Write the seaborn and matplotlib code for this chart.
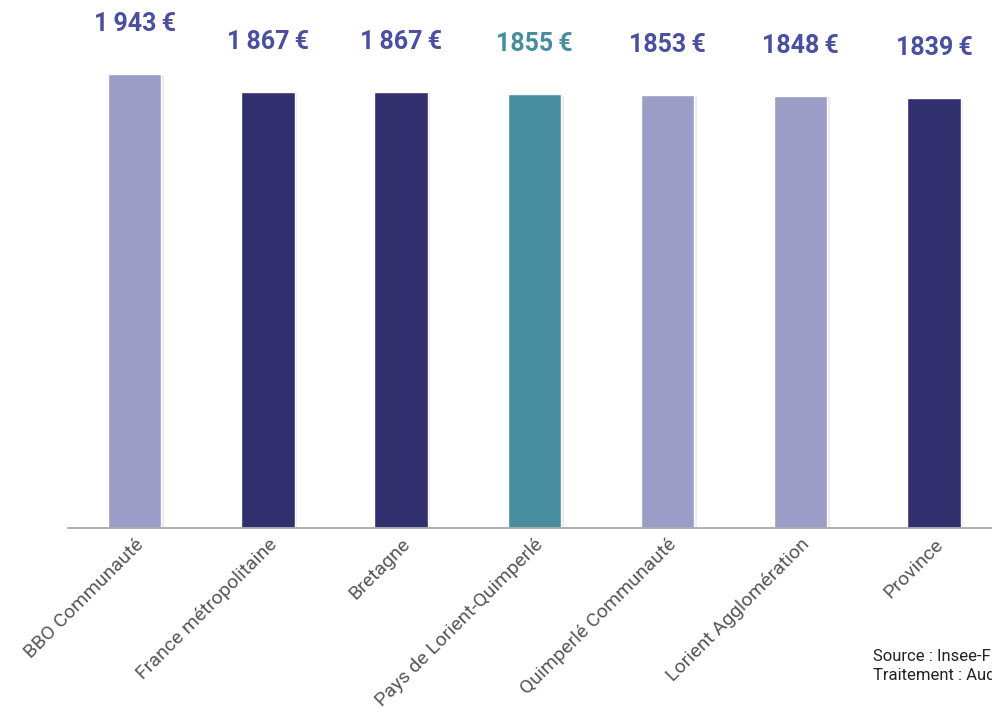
import matplotlib
matplotlib.use('Agg')
import matplotlib.pyplot as plt
import matplotlib.patheffects as pe
import pandas as pd
import seaborn as sns

# Data
territoires = ['BBO Communauté', 'France métropolitaine', 'Bretagne',
               'Pays de Lorient-Quimperlé', 'Quimperlé Communauté',
               'Lorient Agglomération', 'Province']
revenus = [1943, 1867, 1867, 1855, 1853, 1848, 1839]
etiquettes = ['1\u2009943\u2009€', '1\u2009867\u2009€', '1\u2009867\u2009€',
              '1855\u2009€', '1853\u2009€', '1848\u2009€', '1839\u2009€']

light = '#9c9dc6'
dark = '#312f6d'
teal = '#468e9e'
couleurs = [light, dark, dark, teal, light, light, dark]
couleurs_txt = ['#4a4f9f', '#4a4f9f', '#4a4f9f', teal, '#4a4f9f', '#4a4f9f', '#4a4f9f']

df = pd.DataFrame({'territoire': territoires, 'revenu': revenus})

sns.set_theme(style='white')
plt.rcParams['font.family'] = ['Roboto', 'DejaVu Sans']

fig = plt.figure(figsize=(9.92, 7.08), dpi=100)
ax = fig.add_axes([0.0686, 0.254, 0.94, 0.746])

sns.barplot(data=df, x='territoire', y='revenu', hue='territoire',
            palette=dict(zip(territoires, couleurs)), legend=False,
            width=0.4, saturation=1, ax=ax)

# soft drop shadow on bars
for bar in ax.patches:
    bar.set_path_effects([pe.SimplePatchShadow(offset=(2, -1), alpha=0.08, shadow_rgbFace='black'),
                          pe.Normal()])

# value labels above bars
for i, (v, lab, c) in enumerate(zip(revenus, etiquettes, couleurs_txt)):
    ax.annotate(lab, xy=(i, v), xytext=(0, 36), textcoords='offset points',
                ha='center', va='center', fontsize=18, fontweight='bold', color=c)

ax.set_ylim(0, 2259)
ax.set_xlim(-0.5, 6.5)
ax.set_xlabel('')
ax.set_ylabel('')
ax.set_yticks([])
for s in ['top', 'right', 'left']:
    ax.spines[s].set_visible(False)
ax.spines['bottom'].set_color('#aaaaaa')
ax.spines['bottom'].set_linewidth(1.3)
ax.tick_params(axis='x', length=0, pad=5)
plt.setp(ax.get_xticklabels(), rotation=45, ha='right', rotation_mode='anchor',
         fontsize=14, color='#555555')

fig.text(0.88, 0.035, 'Source : Insee-Filosofi 2019\nTraitement : AudéLor',
         fontsize=12, color='#222222', ha='left', va='bottom', linespacing=1.35)

fig.savefig('out.png', dpi=100)
